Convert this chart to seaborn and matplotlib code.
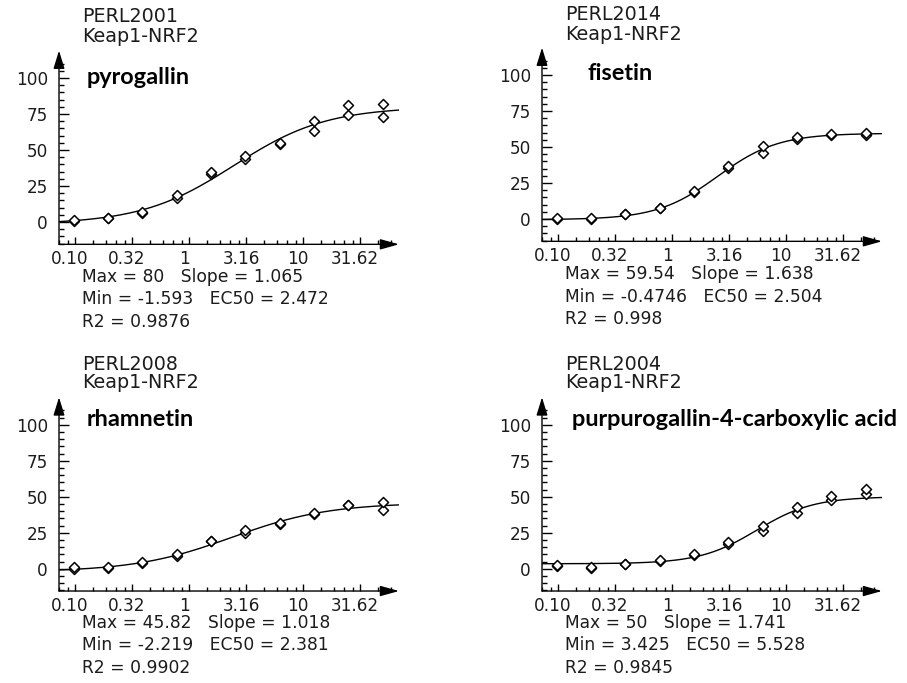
import numpy as np
import pandas as pd
import matplotlib
matplotlib.use("Agg")
import matplotlib.pyplot as plt
import matplotlib.ticker as mticker
from matplotlib.transforms import ScaledTranslation
import seaborn as sns

# ---------------- data ----------------
conc = [0.098, 0.195, 0.39, 0.78, 1.56, 3.125, 6.25, 12.5, 25, 50]

pyrogallin_r1 = [1, 2.5, 6.5, 17, 33, 44, 54, 63, 74, 73]
pyrogallin_r2 = [1.5, 3, 7, 19, 35, 46, 55, 70, 81, 82]
fisetin_r1 = [0, 0, 3.5, 7.5, 18.5, 35.5, 46, 55.5, 58.5, 58.5]
fisetin_r2 = [1, 0.5, 3.5, 7.5, 19.5, 36.5, 50.5, 57, 59, 59.5]
rhamnetin_r1 = [0, 0.5, 4, 9, 19, 25, 31, 38, 44, 41]
rhamnetin_r2 = [1.5, 1, 5, 10, 19.5, 27, 31.5, 39, 44.5, 46]
purpuro_r1 = [2, 0.5, 3, 5.5, 9.5, 17.5, 26, 38.5, 48, 52]
purpuro_r2 = [2.5, 1.5, 3.5, 6, 10, 18.5, 30, 43, 50.5, 55.5]

compounds = ["pyrogallin", "fisetin", "rhamnetin", "purpurogallin-4-carboxylic acid"]
ids = ["PERL2001", "PERL2014", "PERL2008", "PERL2004"]
target = "Keap1-NRF2"
fit_max = [80, 59.54, 45.82, 50]
fit_min = [-1.593, -0.4746, -2.219, 3.425]
fit_slope = [1.065, 1.638, 1.018, 1.741]
fit_ec50 = [2.472, 2.504, 2.381, 5.528]
fit_r2 = [0.9876, 0.998, 0.9902, 0.9845]
reps = [(pyrogallin_r1, pyrogallin_r2), (fisetin_r1, fisetin_r2),
        (rhamnetin_r1, rhamnetin_r2), (purpuro_r1, purpuro_r2)]

xtick_vals = [0.1, 0.3162, 1, 3.162, 10, 31.62]
xtick_labels = ["0.10", "0.32", "1", "3.16", "10", "31.62"]
ytick_vals = [0, 25, 50, 75, 100]

# ---------------- style ----------------
sns.set_theme(style="white")
plt.rcParams["font.family"] = ["DejaVu Sans"]
TXT = "#1c1c1c"

W, H = 907, 683
fig = plt.figure(figsize=(W / 100, H / 100), dpi=100)
fig.patch.set_facecolor("white")

# panel geometry in pixels: (axis x, pixel of y=0)
panels = [(59, 222), (542, 219), (59, 568.7), (542, 568.7)]
YMIN, YMAX = -15.5, 119
PXU = 1.44            # px per y unit
AXW = 340             # axis width px
PXDEC = 114           # px per decade
LX = -1 - 16 / PXDEC
xlim = (10 ** LX, 10 ** (LX + AXW / PXDEC))

# header/name/stat positions (pixels)
hdr = [(82, 17, 36), (565, 15, 34), (82, 364, 383), (565, 364, 383)]
namepos = [(87, 77), (588, 74), (87, 419), (572, 420)]
statpos = [(82, 277), (565, 274), (82, 623), (565, 623)]

minor = []
for k in range(-4, 5):
    a, b = 10 ** (k / 2), 10 ** ((k + 1) / 2)
    minor += [a + (b - a) * j / 5 for j in range(1, 5)]

for i in range(4):
    ax0, y0 = panels[i]
    bot = y0 + (-YMIN) * PXU
    top = y0 - YMAX * PXU
    ax = fig.add_axes([ax0 / W, 1 - bot / H, AXW / W, (bot - top) / H])
    ax.set_facecolor("none")

    r1, r2 = reps[i]
    df = pd.DataFrame({"conc": conc + conc, "resp": r1 + r2})

    xs = np.logspace(LX, LX + AXW / PXDEC, 300)
    mn, mx, sl, ec = fit_min[i], fit_max[i], fit_slope[i], fit_ec50[i]
    curve = mn + (mx - mn) / (1 + (ec / xs) ** sl)
    sns.lineplot(x=xs, y=curve, color="black", lw=1.0, ax=ax, zorder=2)
    sns.scatterplot(data=df, x="conc", y="resp", marker="D", s=26,
                    facecolor="white", edgecolor="black", linewidth=1.1,
                    ax=ax, zorder=3)

    ax.set_xscale("log")
    ax.set_xlim(*xlim)
    ax.set_ylim(YMIN, YMAX)
    ax.set_xlabel("")
    ax.set_ylabel("")
    for s in ax.spines.values():
        s.set_visible(False)

    ax.xaxis.set_major_locator(mticker.FixedLocator(xtick_vals))
    ax.xaxis.set_major_formatter(mticker.FixedFormatter(xtick_labels))
    ax.xaxis.set_minor_locator(mticker.FixedLocator(minor))
    ax.xaxis.set_minor_formatter(mticker.NullFormatter())
    ax.yaxis.set_major_locator(mticker.FixedLocator(ytick_vals))
    ax.yaxis.set_minor_locator(mticker.FixedLocator(list(range(-15, 111, 5))))

    ax.tick_params(axis="x", which="major", direction="in", length=5, width=1,
                   color="black", labelsize=12.2, labelcolor=TXT, pad=4,
                   bottom=True, top=False)
    ax.tick_params(axis="x", which="minor", direction="in", length=3, width=1,
                   color="black", bottom=True, top=False)
    ax.tick_params(axis="y", which="major", direction="in", length=7, width=1,
                   color="black", labelsize=12.2, labelcolor=TXT, pad=8,
                   left=True, right=False)
    ax.tick_params(axis="y", which="minor", direction="in", length=3.5, width=1,
                   color="black", left=True, right=False)
    off = ScaledTranslation(-5 / 100, 0, fig.dpi_scale_trans)
    for lab in ax.get_xticklabels():
        lab.set_transform(lab.get_transform() + off)

    # axes with arrows
    ax.annotate("", xy=(1, 0), xytext=(0, 0), xycoords="axes fraction",
                textcoords="axes fraction",
                arrowprops=dict(arrowstyle="-|>,head_length=11.5,head_width=3.2",
                                mutation_scale=1, color="black", lw=1,
                                shrinkA=0, shrinkB=0), annotation_clip=False)
    ax.annotate("", xy=(0, 1), xytext=(0, 0), xycoords="axes fraction",
                textcoords="axes fraction",
                arrowprops=dict(arrowstyle="-|>,head_length=11,head_width=3.4",
                                mutation_scale=1, color="black", lw=1,
                                shrinkA=0, shrinkB=0), annotation_clip=False)

    hx, hy1, hy2 = hdr[i]
    fig.text(hx / W, 1 - hy1 / H, ids[i], fontsize=13.8, color=TXT, va="center", ha="left")
    fig.text(hx / W, 1 - hy2 / H, target, fontsize=13.8, color=TXT, va="center", ha="left")

    nx, ny = namepos[i]
    fig.text(nx / W, 1 - ny / H, compounds[i], fontsize=16.9, fontweight="bold",
             family=["Lato", "DejaVu Sans"], color="black", va="center", ha="left")

    sx, sy = statpos[i]
    lines = [f"Max = {fit_max[i]:g}   Slope = {fit_slope[i]:g}",
             f"Min = {fit_min[i]:g}   EC50 = {fit_ec50[i]:g}",
             f"R2 = {fit_r2[i]:g}"]
    for j, t in enumerate(lines):
        fig.text(sx / W, 1 - (sy + 22.5 * j) / H, t, fontsize=12.3, color=TXT,
                 va="center", ha="left")

fig.savefig("out.png", dpi=100, facecolor="white")
